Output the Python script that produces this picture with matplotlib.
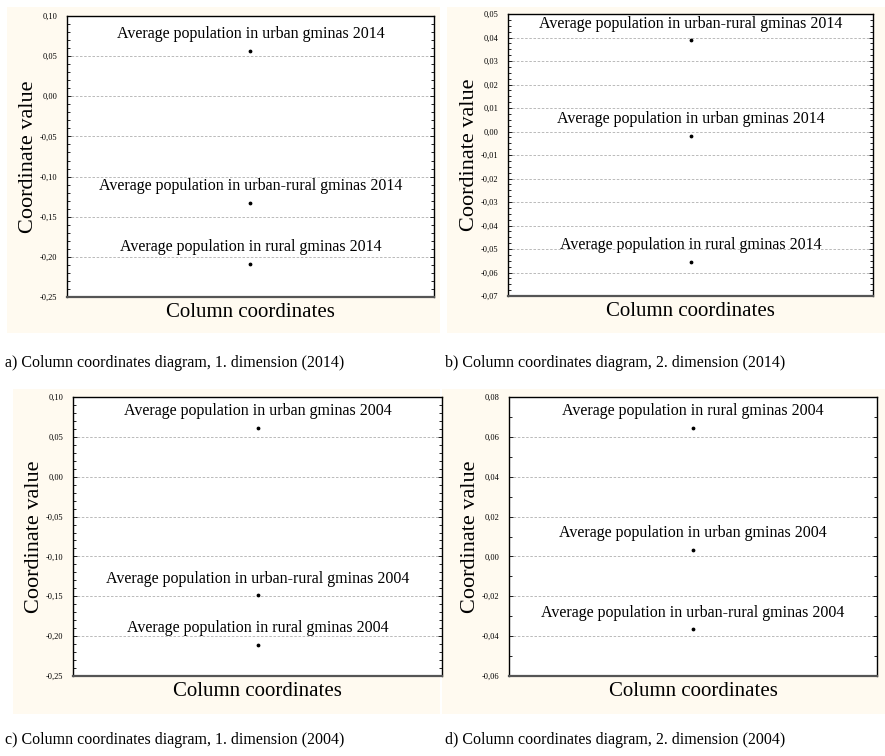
import matplotlib
matplotlib.use("Agg")
import matplotlib.pyplot as plt
from matplotlib.patches import Rectangle
from matplotlib.ticker import MultipleLocator, FuncFormatter

plt.rcParams['font.family'] = ['Liberation Serif', 'DejaVu Serif']

# dane
labels_a = ["Average population in urban gminas 2014",
            "Average population in urban-rural gminas 2014",
            "Average population in rural gminas 2014"]
values_a = [0.057, -0.133, -0.209]

labels_b = ["Average population in urban-rural gminas 2014",
            "Average population in urban gminas 2014",
            "Average population in rural gminas 2014"]
values_b = [0.0388, -0.0019, -0.0555]

labels_c = ["Average population in urban gminas 2004",
            "Average population in urban-rural gminas 2004",
            "Average population in rural gminas 2004"]
values_c = [0.0615, -0.149, -0.211]

labels_d = ["Average population in rural gminas 2004",
            "Average population in urban gminas 2004",
            "Average population in urban-rural gminas 2004"]
values_d = [0.0646, 0.0034, -0.0366]

captions = ["a) Column coordinates diagram, 1. dimension (2014)",
            "b) Column coordinates diagram, 2. dimension (2014)",
            "c) Column coordinates diagram, 1. dimension (2004)",
            "d) Column coordinates diagram, 2. dimension (2004)"]

W, H = 885, 756
fig = plt.figure(figsize=(W / 100, H / 100), dpi=100)
fig.patch.set_facecolor("white")


def px_box(x0, y0, x1, y1):
    # piksele (od gory) -> wspolrzedne figury
    return [x0 / W, 1 - y1 / H, (x1 - x0) / W, (y1 - y0) / H]


# tla paneli
bg_boxes = [(7, 7, 440, 333), (447, 7, 885, 333), (13, 389, 440, 714), (442, 389, 885, 714)]
for b in bg_boxes:
    r = px_box(*b)
    fig.add_artist(Rectangle((r[0], r[1]), r[2], r[3], transform=fig.transFigure,
                             facecolor="#fffaf0", edgecolor="none", zorder=0))

panels = [
    (px_box(67, 16, 434, 297), labels_a, values_a, (-0.25, 0.10), 0.05, 0.01),
    (px_box(508, 14, 873, 296), labels_b, values_b, (-0.07, 0.05), 0.01, 0.0025),
    (px_box(73, 397, 442, 676), labels_c, values_c, (-0.25, 0.10), 0.05, 0.01),
    (px_box(509, 397, 877, 676), labels_d, values_d, (-0.06, 0.08), 0.02, 0.01),
]

fmt = FuncFormatter(lambda v, pos: f"{v:.2f}".replace(".", ","))

for rect, labs, vals, ylim, major, minor in panels:
    ax = fig.add_axes(rect)
    ax.set_facecolor("white")
    ax.set_xlim(-1, 1)
    ax.set_ylim(*ylim)
    ax.yaxis.set_major_locator(MultipleLocator(major))
    ax.yaxis.set_minor_locator(MultipleLocator(minor))
    ax.yaxis.set_major_formatter(fmt)
    ax.set_xticks([])
    ax.tick_params(axis="y", which="both", direction="in", left=True, right=True,
                   labelsize=6, pad=7, width=0.6)
    ax.tick_params(axis="y", which="major", length=3)
    ax.tick_params(axis="y", which="minor", length=2)
    ax.grid(axis="y", which="major", linestyle=(0, (3, 2)), color="#b0b0b0", linewidth=0.6)
    for s in ax.spines.values():
        s.set_linewidth(1.0)
    ax.spines["bottom"].set_color("#555555")
    ax.spines["bottom"].set_linewidth(1.6)

    xs = [0] * len(vals)
    ax.scatter(xs, vals, s=3, color="black", zorder=3)
    for x, y, t in zip(xs, vals, labs):
        ax.annotate(t, (x, y), xytext=(0, 12), textcoords="offset points",
                    ha="center", va="center", fontsize=11.5)

    ax.set_ylabel("Coordinate value", fontsize=16)
    ax.set_xlabel("Column coordinates", fontsize=15, labelpad=4)
    pos = ax.get_position()
    ax.yaxis.set_label_coords(-29 / (pos.width * W), 0.5)

cap_pos = [(5, 363), (445, 363), (5, 740), (445, 740)]
for (x, y), c in zip(cap_pos, captions):
    fig.text(x / W, 1 - y / H, c, ha="left", va="center", fontsize=11.5)

fig.savefig("out.png", dpi=100)
